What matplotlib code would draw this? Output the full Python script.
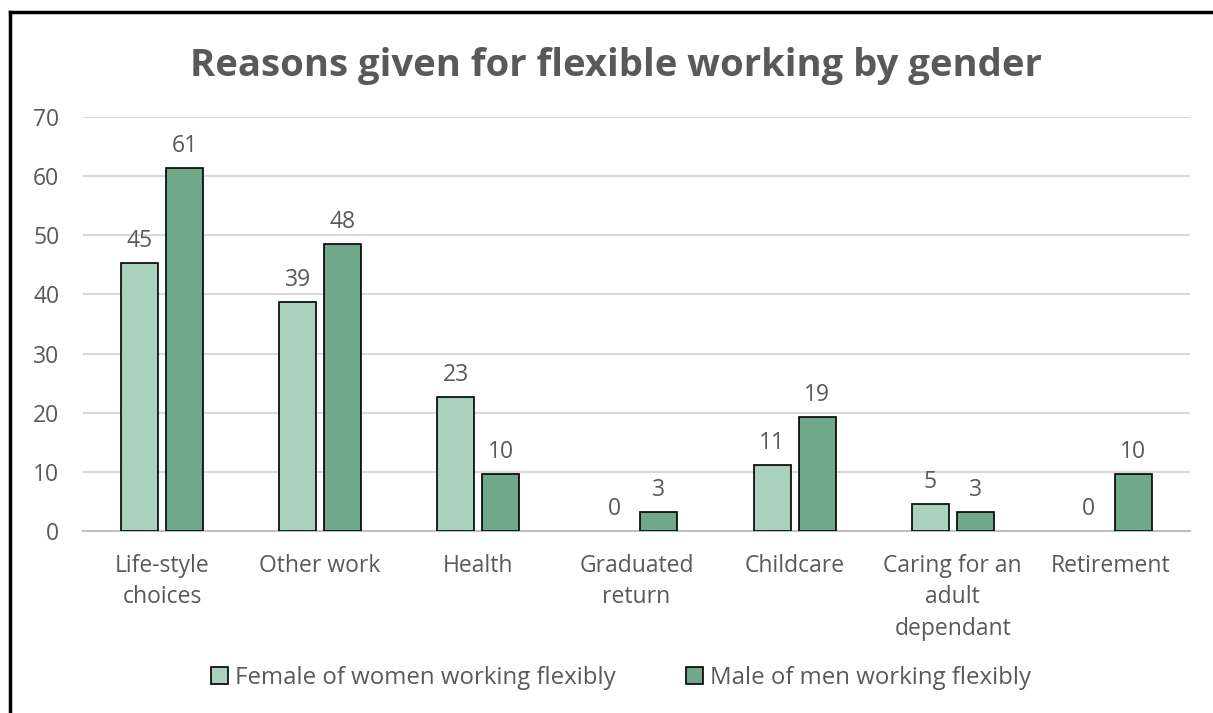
import numpy as np
import matplotlib
matplotlib.use("Agg")
import matplotlib.pyplot as plt
from matplotlib.lines import Line2D

# ========================= DADOS =========================
categorias = ["Life-style\nchoices", "Other work", "Health", "Graduated\nreturn",
              "Childcare", "Caring for an\nadult\ndependant", "Retirement"]
female = [45.3, 38.7, 22.7, 0.0, 11.2, 4.6, 0.0]
male = [61.4, 48.5, 9.6, 3.2, 19.3, 3.2, 9.7]
yticks = [0, 10, 20, 30, 40, 50, 60, 70]

titulo = "Reasons given for flexible working by gender"
leg_female = "Female of women working flexibly"
leg_male = "Male of men working flexibly"

COR_F = "#A9D1BC"
COR_M = "#6FA98A"
CINZA = "#595959"
FS = 16.5

plt.rcParams["font.family"] = ["Open Sans", "DejaVu Sans"]

fig = plt.figure(figsize=(12.13, 7.13), dpi=100)
ax = fig.add_axes([0.0684, 0.2553, 0.9126, 0.5807])

x = np.arange(len(categorias))
w = 0.234
off = 0.142
b1 = ax.bar(x - off, female, w, color=COR_F, edgecolor="black", linewidth=1.2, zorder=3)
b2 = ax.bar(x + off, male, w, color=COR_M, edgecolor="black", linewidth=1.2, zorder=3)

for bars, vals in [(b1, female), (b2, male)]:
    for r, v in zip(bars, vals):
        if v == 0:
            r.set_linewidth(0)
        ax.annotate(f"{v:.0f}", (r.get_x() + r.get_width() / 2, v),
                    xytext=(0, 7), textcoords="offset points",
                    ha="center", va="bottom", fontsize=FS, color=CINZA)

ax.set_xlim(-0.5, len(categorias) - 0.5)
ax.set_ylim(0, 70)
ax.set_yticks(yticks)
ax.set_xticks(x)
ax.set_xticklabels(categorias, fontsize=FS, color=CINZA, linespacing=1.42)
ax.tick_params(axis="y", labelsize=FS, labelcolor=CINZA, length=0, pad=17)
ax.tick_params(axis="x", length=0, pad=16.5)
ax.grid(axis="y", color="#D9D9D9", linewidth=1.5, zorder=0)
for s in ["top", "right", "left"]:
    ax.spines[s].set_visible(False)
ax.spines["bottom"].set_color("#BFBFBF")
ax.spines["bottom"].set_linewidth(1.5)

fig.text(0.508, 0.908, titulo, ha="center", va="center", fontsize=27.5,
         fontweight="bold", color=CINZA)

handles = [plt.Rectangle((0, 0), 1, 1, facecolor=COR_F, edgecolor="black", linewidth=1.2),
           plt.Rectangle((0, 0), 1, 1, facecolor=COR_M, edgecolor="black", linewidth=1.2)]
fig.legend(handles, [leg_female, leg_male], loc="center", bbox_to_anchor=(0.512, 0.049),
           ncol=2, frameon=False, fontsize=17.3, labelcolor=CINZA,
           handlelength=0.72, handleheight=0.72, handletextpad=0.3, columnspacing=2.9)

# borda preta (topo e esquerda)
fig.add_artist(Line2D([10 / 1213, 1.0], [1 - 12 / 713, 1 - 12 / 713], color="black",
                      linewidth=2.5, transform=fig.transFigure))
fig.add_artist(Line2D([10 / 1213, 10 / 1213], [0, 1 - 12 / 713], color="black",
                      linewidth=2.5, transform=fig.transFigure))

fig.savefig("out.png", dpi=100)
